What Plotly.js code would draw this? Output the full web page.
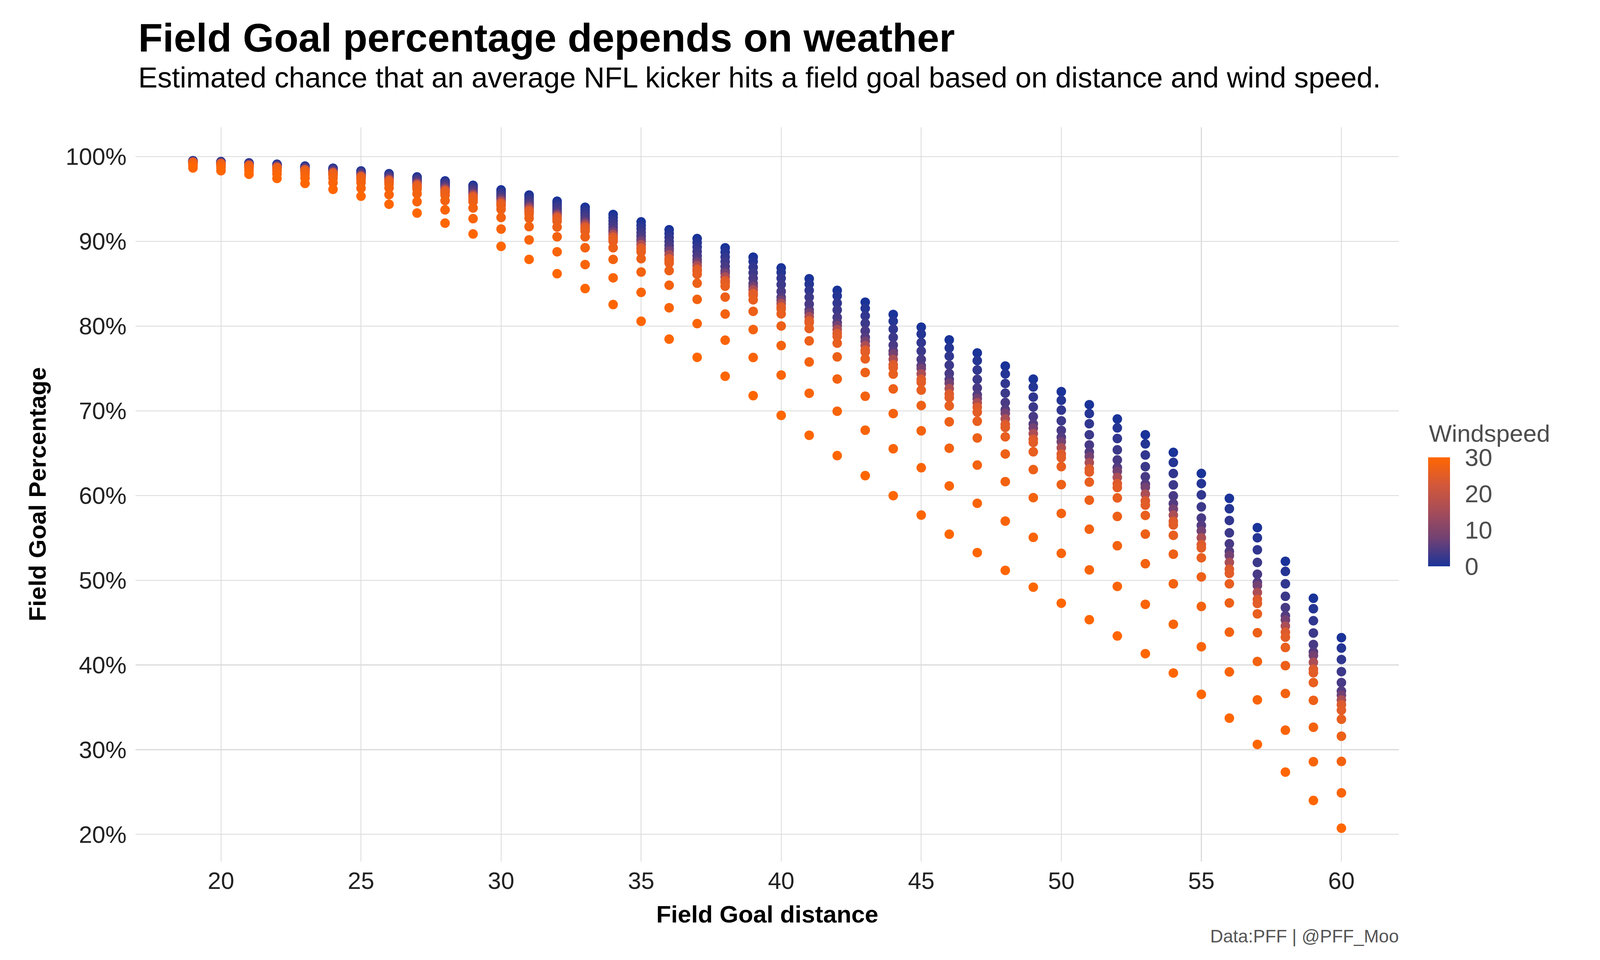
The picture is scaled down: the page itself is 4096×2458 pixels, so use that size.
<!DOCTYPE html>
<html>
<head>
<meta charset="utf-8">
<script src="https://cdn.plot.ly/plotly-3.0.1.min.js"></script>
<style>
  html, body { margin: 0; padding: 0; background: #ffffff; }
  #chart { width: 4096px; height: 2458px; }
</style>
</head>
<body>
<div id="chart"></div>
<script>
// Field goal distance (yards), one column of points per distance
const distance = [19,20,21,22,23,24,25,26,27,28,29,30,31,32,33,34,35,36,37,38,39,40,
                  41,42,43,44,45,46,47,48,49,50,51,52,53,54,55,56,57,58,59,60];

// Windspeed of each plotted row of points
const windLevels = [0,1,2,3,4,5,8,16,24,25,26,27,28,29,30];

// Estimated field goal percentage per windspeed, indexed like `distance`
const pctWind0  = [99.52,99.41,99.26,99.10,98.88,98.63,98.31,97.98,97.60,97.13,96.61,96.07,95.46,94.74,94.02,93.17,92.30,91.37,90.33,89.24,88.13,86.86,85.59,84.21,82.82,81.37,79.87,78.37,76.83,75.28,73.74,72.26,70.72,69.03,67.17,65.09,62.60,59.66,56.21,52.23,47.87,43.22];
const pctWind1  = [99.50,99.39,99.23,99.06,98.84,98.58,98.24,97.90,97.51,97.02,96.48,95.87,95.22,94.47,93.70,92.80,91.88,90.92,89.85,88.72,87.62,86.33,84.95,83.56,82.09,80.58,79.06,77.42,75.92,74.35,72.81,71.24,69.67,67.98,66.09,63.90,61.41,58.44,55.01,51.04,46.64,41.99];
const pctWind2  = [99.48,99.36,99.20,99.02,98.79,98.52,98.17,97.81,97.40,96.90,96.35,95.66,94.98,94.18,93.36,92.41,91.47,90.46,89.33,88.16,86.93,85.64,84.21,82.71,81.21,79.64,78.05,76.45,74.82,73.22,71.62,70.08,68.47,66.73,64.78,62.60,60.08,57.05,53.59,49.58,45.22,40.64];
const pctWind3  = [99.46,99.33,99.16,98.98,98.73,98.45,98.09,97.71,97.29,96.76,96.19,95.46,94.74,93.89,93.02,92.03,91.03,89.98,88.80,87.60,86.29,84.90,83.40,81.90,80.33,78.67,77.05,75.39,73.71,72.08,70.45,68.82,67.17,65.39,63.41,61.25,58.66,55.59,52.10,48.10,43.77,39.21];
const pctWind4  = [99.43,99.30,99.12,98.93,98.67,98.37,98.00,97.61,97.16,96.62,96.02,95.27,94.52,93.62,92.70,91.66,90.62,89.52,88.29,87.04,85.64,84.09,82.59,81.02,79.43,77.75,76.06,74.40,72.69,70.98,69.32,67.69,65.97,64.20,62.22,59.96,57.34,54.30,50.71,46.77,42.41,37.92];
const pctWind5  = [99.41,99.27,99.09,98.88,98.62,98.31,97.92,97.51,97.05,96.48,95.86,95.10,94.31,93.38,92.41,91.32,90.25,89.12,87.84,86.51,85.02,83.40,81.90,80.40,78.67,77.05,75.32,73.71,71.88,70.13,68.45,66.87,65.13,63.30,61.35,59.05,56.47,53.40,49.75,45.80,41.54,36.92];
const pctWind8  = [99.38,99.23,99.04,98.82,98.54,98.22,97.82,97.39,96.90,96.31,95.66,94.95,94.15,93.22,92.22,91.10,90.01,88.85,87.52,86.23,84.67,83.05,81.55,80.05,78.21,76.71,74.98,73.25,71.44,69.70,67.95,66.35,64.60,62.86,60.97,58.40,55.82,52.91,49.36,45.32,41.12,36.43];
const pctWind16 = [99.35,99.20,98.99,98.77,98.47,98.13,97.71,97.26,96.75,96.13,95.46,94.71,93.89,93.02,91.96,90.80,89.62,88.40,87.12,85.79,84.27,82.65,81.09,79.59,77.69,76.08,74.35,72.62,70.93,69.05,67.30,65.63,63.88,62.13,60.17,57.68,55.01,52.10,48.55,44.59,40.31,35.87];
const pctWind24 = [99.32,99.16,98.95,98.71,98.41,98.05,97.62,97.15,96.61,95.97,95.28,94.47,93.62,92.82,91.69,90.49,89.23,87.95,86.71,85.35,83.86,82.25,80.63,79.13,77.17,75.44,73.71,71.98,70.42,68.39,66.64,64.90,63.15,61.40,59.37,56.95,54.20,51.30,47.74,43.86,39.50,35.30];
const pctWind25 = [99.31,99.15,98.93,98.69,98.38,98.02,97.57,97.09,96.55,95.90,95.19,94.37,93.49,92.65,91.53,90.28,89.04,87.76,86.51,85.14,83.63,82.02,80.40,78.78,76.94,75.09,73.36,71.56,69.84,68.04,66.26,64.46,62.77,60.94,58.87,56.53,53.82,50.81,47.26,43.28,39.08,34.66];
const pctWind26 = [99.28,99.11,98.89,98.64,98.31,97.94,97.48,96.98,96.42,95.75,95.01,94.18,93.22,92.38,91.21,90.01,88.75,87.44,86.12,84.71,83.10,81.44,79.71,77.98,76.13,74.33,72.44,70.59,68.77,66.93,65.16,63.41,61.58,59.72,57.65,55.30,52.65,49.58,46.03,42.06,37.92,33.59];
const pctWind27 = [99.23,99.05,98.81,98.54,98.20,97.80,97.31,96.77,96.17,95.46,94.69,93.78,92.73,91.69,90.54,89.25,87.95,86.55,85.06,83.42,81.74,80.01,78.25,76.36,74.52,72.58,70.62,68.70,66.79,64.90,63.06,61.29,59.45,57.53,55.44,53.07,50.39,47.32,43.80,39.92,35.82,31.59];
const pctWind28 = [99.12,98.91,98.64,98.32,97.93,97.47,96.92,96.31,95.62,94.81,93.94,92.82,91.74,90.54,89.25,87.87,86.38,84.82,83.15,81.42,79.59,77.70,75.76,73.75,71.72,69.67,67.64,65.58,63.59,61.64,59.75,57.88,56.02,54.07,51.95,49.58,46.90,43.87,40.41,36.63,32.65,28.61];
const pctWind29 = [98.93,98.68,98.34,97.96,97.48,96.92,96.27,95.51,94.68,93.72,92.68,91.45,90.17,88.77,87.26,85.69,83.98,82.16,80.29,78.33,76.29,74.22,72.07,69.95,67.71,65.52,63.28,61.13,59.08,56.98,55.06,53.17,51.22,49.27,47.15,44.80,42.15,39.18,35.88,32.30,28.58,24.90];
const pctWind30 = [98.66,98.34,97.92,97.43,96.84,96.14,95.33,94.38,93.34,92.15,90.87,89.41,87.87,86.18,84.43,82.54,80.57,78.46,76.31,74.08,71.79,69.46,67.11,64.71,62.35,59.98,57.69,55.43,53.26,51.16,49.18,47.29,45.34,43.42,41.33,39.05,36.53,33.72,30.62,27.35,24.00,20.73];

const pctByWind = [pctWind0,pctWind1,pctWind2,pctWind3,pctWind4,pctWind5,pctWind8,pctWind16,
                   pctWind24,pctWind25,pctWind26,pctWind27,pctWind28,pctWind29,pctWind30];

const yTicks = [20,30,40,50,60,70,80,90,100];
const yTickLabels = ['20%','30%','40%','50%','60%','70%','80%','90%','100%'];
const xTicks = [20,25,30,35,40,45,50,55,60];
const windTicks = [0,10,20,30];

// Points in data order: per distance, low wind first (high wind drawn on top)
const xs = [], ys = [], cs = [];
distance.forEach((d, i) => {
  windLevels.forEach((w, j) => {
    xs.push(d); ys.push(pctByWind[j][i]); cs.push(w);
  });
});

const FONT = '"Liberation Sans", Arial, Helvetica, sans-serif';

const trace = {
  type: 'scatter',
  mode: 'markers',
  x: xs, y: ys,
  hoverinfo: 'skip',
  marker: {
    size: 24.5,
    color: cs,
    cmin: 0, cmax: 30,
    colorscale: [
      [0.00, 'rgb(26,51,153)'],
      [0.25, 'rgb(112,65,116)'],
      [0.50, 'rgb(165,76,89)'],
      [0.75, 'rgb(211,88,58)'],
      [1.00, 'rgb(255,102,0)']
    ],
    line: { width: 0 },
    colorbar: {
      x: 1.0232, xanchor: 'left',
      y: 0.4763, yanchor: 'middle',
      xpad: 0, ypad: 0,
      thickness: 56, thicknessmode: 'pixels',
      len: 279, lenmode: 'pixels',
      outlinewidth: 0,
      tickmode: 'array', tickvals: windTicks,
      ticks: 'outside', ticklen: 26, tickcolor: 'rgba(0,0,0,0)',
      tickfont: { family: FONT, size: 63, color: '#4d4d4d' }
    }
  }
};

const layout = {
  width: 4096, height: 2458,
  paper_bgcolor: '#ffffff', plot_bgcolor: '#ffffff',
  margin: { l: 347, r: 515, t: 326, b: 252, pad: 0 },
  font: { family: FONT, color: '#222222' },
  showlegend: false,
  xaxis: {
    range: [16.95, 62.05],
    tickmode: 'array', tickvals: xTicks,
    showgrid: true, gridcolor: '#dadada', gridwidth: 2.2,
    zeroline: false, showline: false, ticks: '',
    tickfont: { family: FONT, size: 61, color: '#222222' },
    ticklabelstandoff: 8
  },
  yaxis: {
    range: [16.79, 103.46],
    tickmode: 'array', tickvals: yTicks, ticktext: yTickLabels,
    showgrid: true, gridcolor: '#dadada', gridwidth: 2.2,
    zeroline: false, showline: false, ticks: '',
    tickfont: { family: FONT, size: 61, color: '#222222' },
    ticklabelstandoff: 22
  },
  annotations: [
    { text: '<b>Field Goal percentage depends on weather</b>', xref: 'paper', yref: 'paper',
      x: 0.0015, y: 1.1223, xanchor: 'left', yanchor: 'middle', showarrow: false,
      font: { family: FONT, size: 102.5, color: '#000000' } },
    { text: 'Estimated chance that an average NFL kicker hits a field goal based on distance and wind speed.',
      xref: 'paper', yref: 'paper', x: 0.0015, y: 1.0676, xanchor: 'left', yanchor: 'middle',
      showarrow: false, font: { family: FONT, size: 73.8, color: '#000000' } },
    { text: '<b>Field Goal distance</b>', xref: 'paper', yref: 'paper', x: 0.5, y: -0.0718,
      xanchor: 'center', yanchor: 'middle', showarrow: false,
      font: { family: FONT, size: 62, color: '#000000' } },
    { text: '<b>Field Goal Percentage</b>', xref: 'paper', yref: 'paper', x: -0.0779, y: 0.5,
      xanchor: 'center', yanchor: 'middle', textangle: -90, showarrow: false,
      font: { family: FONT, size: 62, color: '#000000' } },
    { text: 'Data:PFF | @PFF_Moo', xref: 'paper', yref: 'paper', x: 1.0006, y: -0.1016,
      xanchor: 'right', yanchor: 'middle', showarrow: false,
      font: { family: FONT, size: 46, color: '#555555' } },
    { text: 'Windspeed', xref: 'paper', yref: 'paper', x: 1.0232, y: 0.583,
      xanchor: 'left', yanchor: 'middle', showarrow: false,
      font: { family: FONT, size: 62, color: '#4d4d4d' } }
  ]
};

Plotly.newPlot('chart', [trace], layout, { staticPlot: true, displayModeBar: false });
</script>
</body>
</html>
